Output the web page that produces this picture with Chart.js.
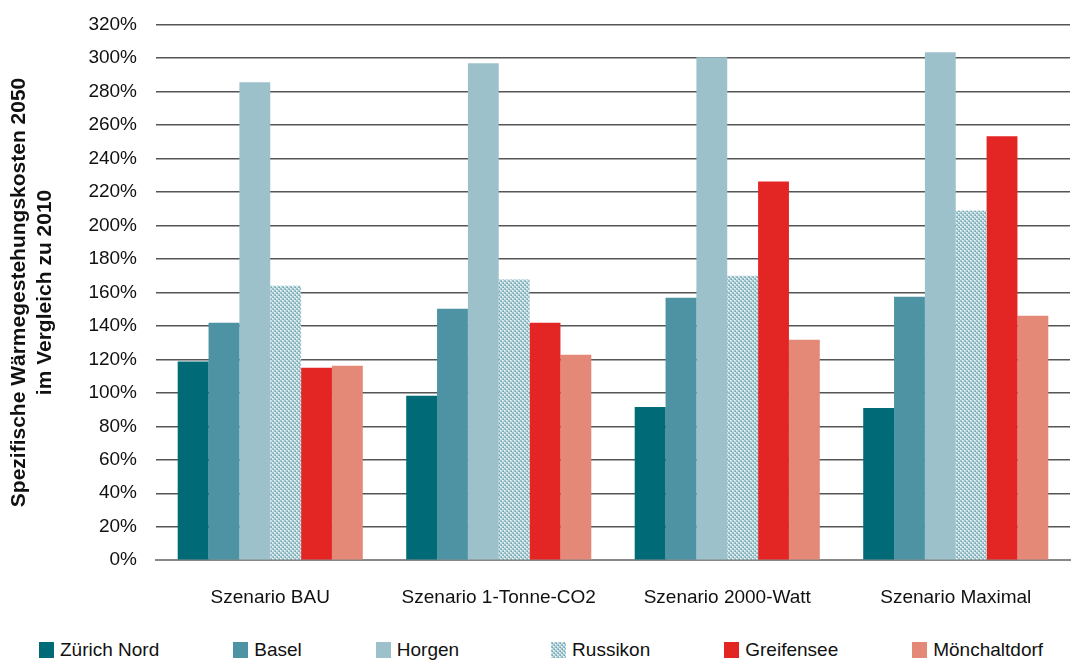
<!DOCTYPE html>
<html>
<head>
<meta charset="utf-8">
<script src="https://cdn.jsdelivr.net/npm/chart.js@4/dist/chart.umd.min.js"></script>
<style>
  html, body { margin: 0; padding: 0; background: #fff; }
  #wrap { position: relative; width: 1072px; height: 631px; }
  #legend {
    display: flex;
    align-items: center;
    margin: 0;
    padding: 0 0 0 39px;
    list-style: none;
    height: 38px;
    font: 19px "Liberation Sans", Arial, sans-serif;
    color: #111;
    white-space: nowrap;
  }
  #legend li { display: flex; align-items: center; flex-shrink: 0; margin-right: 74px; }
  #legend li.wide { margin-right: 92px; }
  #legend .box { display: inline-block; width: 15px; height: 16px; margin-right: 6px; }
</style>
</head>
<body>
<div id="wrap"><canvas id="chart"></canvas></div>
<ul id="legend"></ul>
<script>
const scenarios = ["Szenario BAU", "Szenario 1-Tonne-CO2", "Szenario 2000-Watt", "Szenario Maximal"];

const zuerichNord = [118.7, 98.2, 91.6, 91.0];
const basel = [141.9, 150.3, 156.9, 157.5];
const horgen = [285.6, 297.0, 300.6, 303.6];
const russikon = [164.0, 167.7, 170.0, 209.0];
const greifensee = [115.0, 141.9, 226.3, 253.3];
const moenchaltdorf = [116.2, 122.8, 131.7, 146.1];

// stippled tile for Russikon
const tile = document.createElement("canvas");
tile.width = 4;
tile.height = 4;
(() => {
  const g = tile.getContext("2d");
  g.fillStyle = "#9cc1ca";
  g.fillRect(0, 0, 4, 4);
  g.fillStyle = "#c6dde2";
  g.fillRect(2, 0, 2, 2);
  g.fillRect(0, 2, 2, 2);
  g.fillStyle = "#f4f9fa";
  g.fillRect(2, 0, 1, 1);
  g.fillRect(0, 2, 1, 1);
  g.fillStyle = "#6ea6b3";
  g.fillRect(1, 1, 1, 1);
  g.fillRect(3, 3, 1, 1);
})();
const dots = tile.getContext("2d").createPattern(tile, "repeat");

const font = "'Liberation Sans', Arial, sans-serif";

const chart = new Chart(document.getElementById("chart"), {
  type: "bar",
  data: {
    labels: scenarios,
    datasets: [
      { label: "Zürich Nord", data: zuerichNord, backgroundColor: "#006b76" },
      { label: "Basel", data: basel, backgroundColor: "#4e93a3" },
      { label: "Horgen", data: horgen, backgroundColor: "#9cc1ca" },
      { label: "Russikon", data: russikon, backgroundColor: dots },
      { label: "Greifensee", data: greifensee, backgroundColor: "#e32624" },
      { label: "Mönchaltdorf", data: moenchaltdorf, backgroundColor: "#e48878" },
    ],
  },
  options: {
    responsive: true,
    maintainAspectRatio: false,
    animation: false,
    layout: { padding: { top: 0, right: 2, left: 7, bottom: 4 } },
    datasets: { bar: { categoryPercentage: 0.81, barPercentage: 1.0 } },
    plugins: {
      tooltip: { enabled: false },
      legend: { display: false },
    },
    scales: {
      x: {
        grid: { display: false },
        border: { display: true, color: "#888", width: 2 },
        ticks: { color: "#111", padding: 18, font: { family: font, size: 19 } },
      },
      y: {
        min: 0,
        max: 320,
        ticks: {
          stepSize: 20,
          padding: 19,
          color: "#111",
          font: { family: font, size: 19, lineHeight: 0.6 },
          callback: (v) => v + "%",
        },
        grid: { color: "#555", lineWidth: 1.5, drawTicks: false },
        border: { display: false },
        title: {
          display: true,
          text: ["Spezifische Wärmegestehungskosten 2050", "im Vergleich zu 2010"],
          color: "#111",
          font: { family: font, size: 21, weight: "bold" },
          padding: { top: 0, bottom: 12 },
        },
      },
    },
  },
});

// legend list built from the chart's own datasets
const legend = document.getElementById("legend");
chart.data.datasets.forEach((ds) => {
  const li = document.createElement("li");
  if (ds.label === "Horgen") li.className = "wide";
  const box = document.createElement("span");
  box.className = "box";
  if (ds.backgroundColor === dots) {
    box.style.backgroundImage = `url(${tile.toDataURL()})`;
  } else {
    box.style.background = ds.backgroundColor;
  }
  li.appendChild(box);
  li.appendChild(document.createTextNode(ds.label));
  legend.appendChild(li);
});
</script>
</body>
</html>
